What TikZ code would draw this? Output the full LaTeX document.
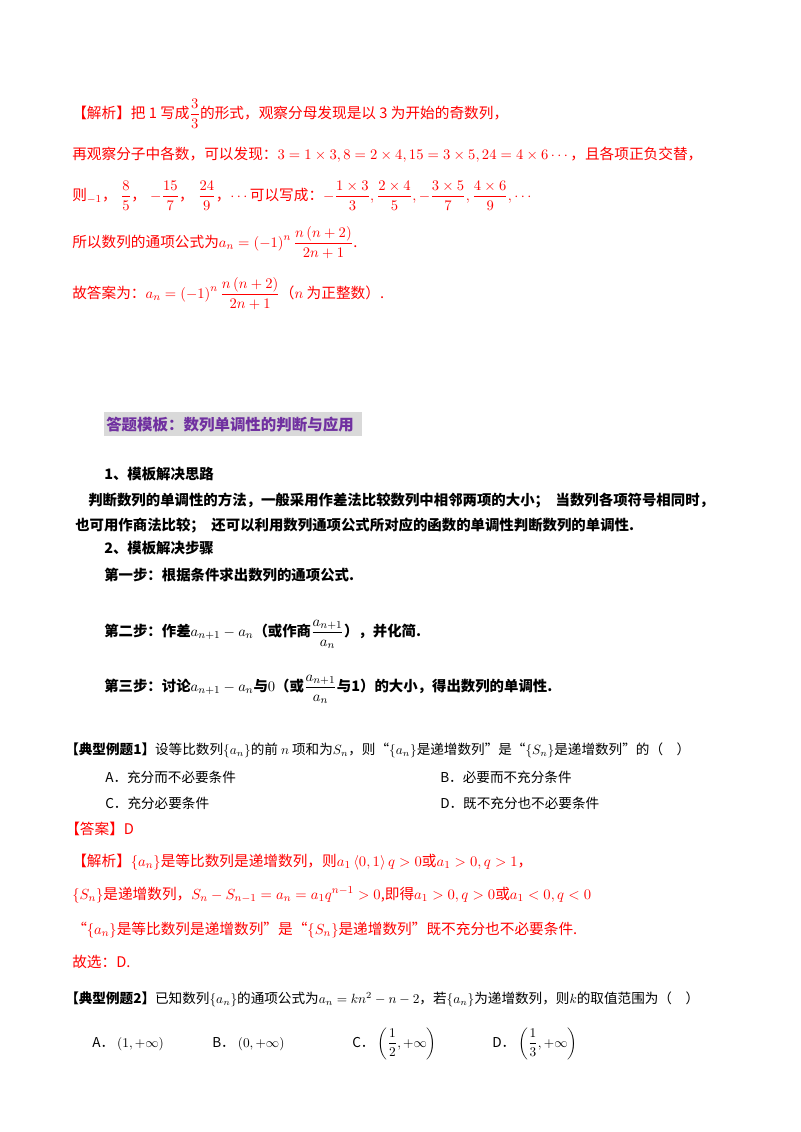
\documentclass[tikz,border=0pt]{standalone}
\usepackage{amsmath}
\usepackage{fontspec}
\setmainfont{Noto Sans CJK SC}
\definecolor{jr}{RGB}{255,0,0}
\definecolor{pu}{RGB}{112,48,160}
\definecolor{bx}{RGB}{217,217,217}
\begin{document}
\begin{tikzpicture}[x=0.75pt,y=-0.75pt,
  t/.style={anchor=base west,inner sep=0pt,font=\fontsize{10.2}{12}\selectfont},
  r/.style={t,text=jr,font=\fontsize{11}{13}\selectfont},
  b/.style={t,font=\fontsize{10.8}{12}\selectfont\bfseries}]
\useasboundingbox (0,0) rectangle (800,1132);
\node[r] (l1) at (72,118) {【解析】把 1 写成$\dfrac{3}{3}$的形式，观察分母发现是以 3 为开始的奇数列，};
\node[r] (l2) at (72,159) {再观察分子中各数，可以发现：$3=1\times3,8=2\times4,15=3\times5,24=4\times6\cdots$，且各项正负交替，};
\node[r] (l3) at (72,200) {则$_{-1}$，\;$\dfrac{8}{5}$，\;$-\dfrac{15}{7}$，\;$\dfrac{24}{9}$，$\cdots$可以写成：$-\dfrac{1\times3}{3},\dfrac{2\times4}{5},-\dfrac{3\times5}{7},\dfrac{4\times6}{9},\cdots$};
\node[r] (l4) at (72,247) {所以数列的通项公式为$a_n=\left(-1\right)^n\dfrac{n\left(n+2\right)}{2n+1}$.};
\node[r] (l5) at (72,298) {故答案为：$a_n=\left(-1\right)^n\dfrac{n\left(n+2\right)}{2n+1}$（$n$ 为正整数）.};
\fill[bx] (104,412) rectangle (362,436);
\node[anchor=base west,inner sep=0pt,text=pu,font=\fontsize{11.6}{13}\selectfont\bfseries] (hd) at (106,430) {答题模板：数列单调性的判断与应用};
\node[b] (s1) at (104,479) {1、模板解决思路};
\node[b] (s2) at (88,505) {判断数列的单调性的方法，一般采用作差法比较数列中相邻两项的大小；\ \ 当数列各项符号相同时，};
\node[b] (s3) at (75,530) {也可用作商法比较；\ \ 还可以利用数列通项公式所对应的函数的单调性判断数列的单调性.};
\node[b] (s4) at (104,553) {2、模板解决步骤};
\node[b] (s5) at (104,580) {第一步：根据条件求出数列的通项公式.};
\node[b] (s6) at (104,636) {第二步：作差$a_{n+1}-a_n$（或作商$\dfrac{a_{n+1}}{a_n}$），并化简.};
\node[b] (s7) at (104,691) {第三步：讨论$a_{n+1}-a_n$与$0$（或$\dfrac{a_{n+1}}{a_n}$与1）的大小，得出数列的单调性.};
\node[t] (e1) at (65,754) {\textbf{【典型例题1】}设等比数列$\left\{a_n\right\}$的前 $n$ 项和为$S_n$，则“$\left\{a_n\right\}$是递增数列”是“$\left\{S_n\right\}$是递增数列”的（\quad）};
\node[t] (oa) at (105,782) {A．充分而不必要条件};
\node[t] (ob) at (440,782) {B．必要而不充分条件};
\node[t] (oc) at (105,808) {C．充分必要条件};
\node[t] (od) at (440,808) {D．既不充分也不必要条件};
\node[r] (an) at (65,834) {【答案】D};
\node[r] (j1) at (72,866) {【解析】$\left\{a_n\right\}$是等比数列是递增数列，则$a_1\left\langle0,1\right\rangle q>0$或$a_1>0,q>1$，};
\node[r] (j2) at (72,899) {$\left\{S_n\right\}$是递增数列，$S_n-S_{n-1}=a_n=a_1q^{n-1}>0$,即得$a_1>0,q>0$或$a_1<0,q<0$};
\node[r] (j3) at (72,934) {“$\left\{a_n\right\}$是等比数列是递增数列”是“$\left\{S_n\right\}$是递增数列”既不充分也不必要条件.};
\node[r] (j4) at (72,967) {故选：D.};
\node[t] (e2) at (65,1003) {\textbf{【典型例题2】}已知数列$\left\{a_n\right\}$的通项公式为$a_n=kn^2-n-2$，若$\left\{a_n\right\}$为递增数列，则$k$的取值范围为（\quad）};
\node[t] (pa) at (92,1047) {A．\ $\left(1,+\infty\right)$};
\node[t] (pb) at (212,1047) {B．\ $\left(0,+\infty\right)$};
\node[t] (pc) at (352,1047) {C．\ $\left(\dfrac{1}{2},+\infty\right)$};
\node[t] (pd) at (492,1047) {D．\ $\left(\dfrac{1}{3},+\infty\right)$};
\end{tikzpicture}
\end{document}
